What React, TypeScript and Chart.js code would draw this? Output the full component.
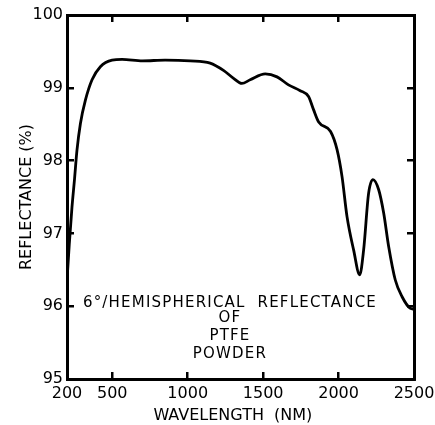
import React, { useEffect, useRef } from 'react';
import { Chart, registerables } from 'chart.js';

Chart.register(...registerables);

// Wavelength (nm) and reflectance (%)
const wavelengths = [200, 215, 233, 250, 266, 289, 322, 366, 421, 499, 565, 700, 850, 1016, 1149, 1237, 1304, 1359, 1414, 1514, 1592, 1668, 1746, 1801, 1834, 1868, 1947, 1990, 2023, 2056, 2100, 2140, 2166, 2199, 2228, 2266, 2299, 2332, 2376, 2421, 2476, 2500];
const reflectance = [96.35, 96.85, 97.36, 97.75, 98.14, 98.51, 98.83, 99.11, 99.29, 99.38, 99.39, 99.37, 99.38, 99.37, 99.34, 99.24, 99.13, 99.06, 99.11, 99.19, 99.15, 99.04, 98.96, 98.88, 98.7, 98.53, 98.4, 98.15, 97.78, 97.23, 96.77, 96.43, 96.77, 97.55, 97.74, 97.6, 97.28, 96.82, 96.36, 96.13, 95.97, 95.96];

const xTickValues = [200, 500, 1000, 1500, 2000, 2500];
const yTickValues = [95, 96, 97, 98, 99, 100];

const xTitle = 'WAVELENGTH  (NM)';
const yTitle = 'REFLECTANCE (%)';

const noteLines = ['6°/HEMISPHERICAL  REFLECTANCE', 'OF', 'PTFE', 'POWDER'];
const noteWavelength = 1280;
const noteValues = [96.04, 95.83, 95.59, 95.34];

const INK = '#000';
const FONT = '"DejaVu Sans", sans-serif';

const notePlugin = {
  id: 'notes',
  afterDatasetsDraw(chart: any) {
    const { ctx, scales } = chart;
    const x = scales.x;
    const y = scales.y;
    ctx.save();
    ctx.font = '15px ' + FONT;
    try { (ctx as any).letterSpacing = '1.2px'; } catch (e) {}
    ctx.fillStyle = INK;
    ctx.textAlign = 'center';
    ctx.textBaseline = 'middle';
    noteLines.forEach((t, i) => {
      ctx.fillText(t, x.getPixelForValue(noteWavelength), y.getPixelForValue(noteValues[i]));
    });
    ctx.restore();
  },
};

function gridOpts() {
  return {
    display: true,
    drawOnChartArea: false,
    drawTicks: true,
    tickLength: -7,
    lineWidth: 2.5,
    color: INK,
  };
}

function borderOpts() {
  return { display: true, color: INK, width: 3 };
}

export default function App() {
  const ref = useRef<HTMLCanvasElement | null>(null);

  useEffect(() => {
    document.body.style.margin = '0';
    document.body.style.overflow = 'hidden';
    const canvas = ref.current;
    if (!canvas) return;
    const setX = (s: any) => { s.ticks = xTickValues.map((v) => ({ value: v })); };
    const setY = (s: any) => { s.ticks = yTickValues.map((v) => ({ value: v })); };
    const chart = new Chart(canvas, {
      type: 'line',
      data: {
        datasets: [
          {
            data: wavelengths.map((w, i) => ({ x: w, y: reflectance[i] })),
            borderColor: INK,
            borderWidth: 2.8,
            pointRadius: 0,
            fill: false,
            cubicInterpolationMode: 'monotone',
          } as any,
        ],
      },
      options: {
        animation: false,
        responsive: true,
        maintainAspectRatio: false,
        layout: { padding: 0 },
        plugins: { legend: { display: false }, tooltip: { enabled: false } },
        scales: {
          x: {
            type: 'linear',
            position: 'bottom',
            min: 200,
            max: 2500,
            afterBuildTicks: setX,
            afterFit: (s: any) => { s.height = 46; s.paddingLeft = 0; s.paddingRight = 0; },
            grid: gridOpts(),
            border: borderOpts(),
            ticks: {
              autoSkip: false,
              maxRotation: 0,
              padding: 12,
              color: INK,
              font: { family: FONT, size: 16 },
              callback: (v: any) => String(v),
            },
            title: {
              display: true,
              text: xTitle + '   ',
              color: INK,
              font: { family: FONT, size: 16 },
              padding: { top: 0, bottom: 0 },
            },
          },
          x2: {
            type: 'linear',
            position: 'top',
            min: 200,
            max: 2500,
            afterBuildTicks: setX,
            afterFit: (s: any) => { s.height = 15; s.paddingLeft = 0; s.paddingRight = 0; },
            grid: gridOpts(),
            border: borderOpts(),
            ticks: { display: false },
          },
          y: {
            type: 'linear',
            position: 'left',
            min: 95,
            max: 100,
            afterBuildTicks: setY,
            afterFit: (s: any) => { s.width = 67; s.paddingTop = 0; s.paddingBottom = 0; },
            grid: gridOpts(),
            border: borderOpts(),
            ticks: {
              padding: 11,
              color: INK,
              font: { family: FONT, size: 16 },
              callback: (v: any) => String(v),
            },
            title: {
              display: true,
              text: yTitle,
              color: INK,
              font: { family: FONT, size: 16 },
              padding: { top: 17, bottom: 0 },
            },
          },
          y2: {
            type: 'linear',
            position: 'right',
            min: 95,
            max: 100,
            afterBuildTicks: setY,
            afterFit: (s: any) => { s.width = 21; s.paddingTop = 0; s.paddingBottom = 0; },
            grid: gridOpts(),
            border: borderOpts(),
            ticks: { display: false },
          },
        },
      } as any,
      plugins: [notePlugin],
    });
    return () => chart.destroy();
  }, []);

  return (
    <div style={{ width: 435, height: 425, position: 'relative', overflow: 'hidden', background: '#fff' }}>
      <canvas ref={ref} />
    </div>
  );
}
